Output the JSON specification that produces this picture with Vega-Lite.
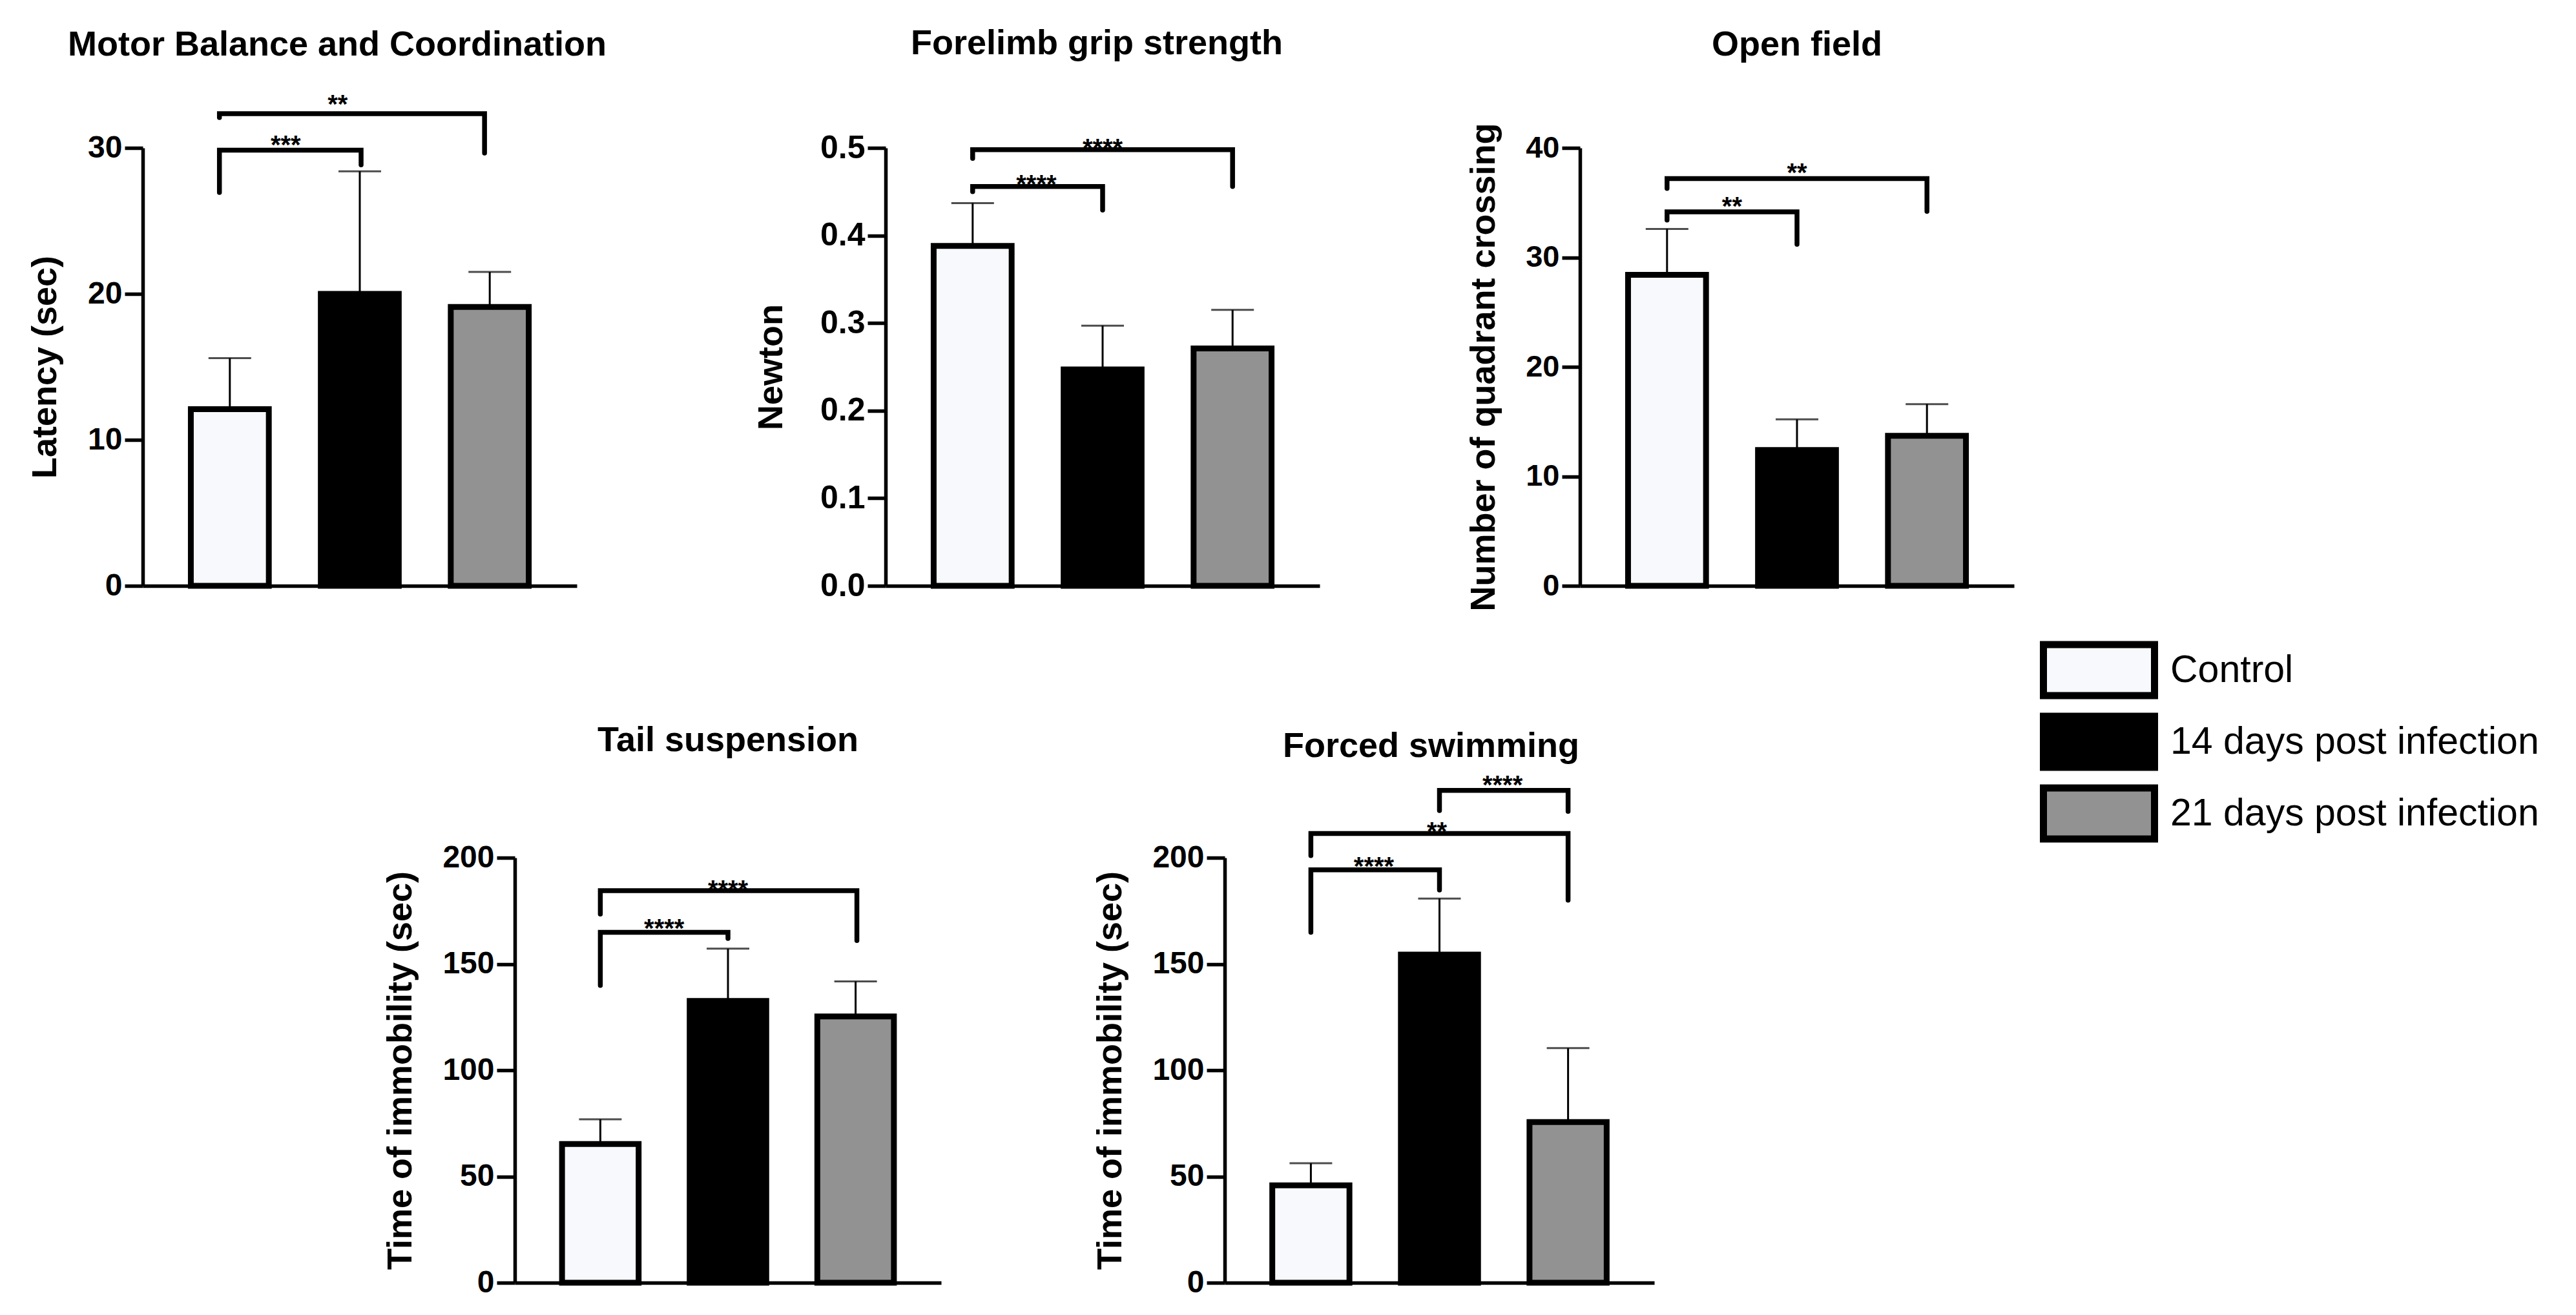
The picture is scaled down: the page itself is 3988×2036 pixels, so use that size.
{
  "$schema": "https://vega.github.io/schema/vega-lite/v6.json",
  "background": "white",
  "padding": {"left": 43, "top": 41, "right": 10, "bottom": 10},
  "datasets": {
    "bars": [
      {"panel": "P1", "group": "Control", "mean": 12.1, "upper": 15.6},
      {"panel": "P1", "group": "14 days post infection", "mean": 20.0, "upper": 28.4},
      {"panel": "P1", "group": "21 days post infection", "mean": 19.1, "upper": 21.5},
      {"panel": "P2", "group": "Control", "mean": 0.388, "upper": 0.437},
      {"panel": "P2", "group": "14 days post infection", "mean": 0.247, "upper": 0.297},
      {"panel": "P2", "group": "21 days post infection", "mean": 0.271, "upper": 0.315},
      {"panel": "P3", "group": "Control", "mean": 28.4, "upper": 32.6},
      {"panel": "P3", "group": "14 days post infection", "mean": 12.4, "upper": 15.2},
      {"panel": "P3", "group": "21 days post infection", "mean": 13.7, "upper": 16.6},
      {"panel": "P4", "group": "Control", "mean": 65.3, "upper": 76.9},
      {"panel": "P4", "group": "14 days post infection", "mean": 132.6, "upper": 157.2},
      {"panel": "P4", "group": "21 days post infection", "mean": 125.3, "upper": 141.8},
      {"panel": "P5", "group": "Control", "mean": 45.8, "upper": 56.2},
      {"panel": "P5", "group": "14 days post infection", "mean": 154.4, "upper": 180.8},
      {"panel": "P5", "group": "21 days post infection", "mean": 75.6, "upper": 110.4}
    ],
    "brackets": [
      {"panel": "P1", "id": "P1a", "seq": 1, "pos": -0.08, "y": 26.95},
      {"panel": "P1", "id": "P1a", "seq": 2, "pos": -0.08, "y": 29.84},
      {"panel": "P1", "id": "P1a", "seq": 3, "pos": 1.01, "y": 29.84},
      {"panel": "P1", "id": "P1a", "seq": 4, "pos": 1.01, "y": 28.84},
      {"panel": "P1", "id": "P1b", "seq": 1, "pos": -0.08, "y": 32.08},
      {"panel": "P1", "id": "P1b", "seq": 2, "pos": -0.08, "y": 32.35},
      {"panel": "P1", "id": "P1b", "seq": 3, "pos": 1.96, "y": 32.35},
      {"panel": "P1", "id": "P1b", "seq": 4, "pos": 1.96, "y": 29.65},
      {"panel": "P2", "id": "P2a", "seq": 1, "pos": 0, "y": 0.450},
      {"panel": "P2", "id": "P2a", "seq": 2, "pos": 0, "y": 0.456},
      {"panel": "P2", "id": "P2a", "seq": 3, "pos": 1, "y": 0.456},
      {"panel": "P2", "id": "P2a", "seq": 4, "pos": 1, "y": 0.429},
      {"panel": "P2", "id": "P2b", "seq": 1, "pos": 0, "y": 0.488},
      {"panel": "P2", "id": "P2b", "seq": 2, "pos": 0, "y": 0.498},
      {"panel": "P2", "id": "P2b", "seq": 3, "pos": 2, "y": 0.498},
      {"panel": "P2", "id": "P2b", "seq": 4, "pos": 2, "y": 0.456},
      {"panel": "P3", "id": "P3a", "seq": 1, "pos": 0, "y": 33.4},
      {"panel": "P3", "id": "P3a", "seq": 2, "pos": 0, "y": 34.16},
      {"panel": "P3", "id": "P3a", "seq": 3, "pos": 1, "y": 34.16},
      {"panel": "P3", "id": "P3a", "seq": 4, "pos": 1, "y": 31.2},
      {"panel": "P3", "id": "P3b", "seq": 1, "pos": 0, "y": 36.3},
      {"panel": "P3", "id": "P3b", "seq": 2, "pos": 0, "y": 37.2},
      {"panel": "P3", "id": "P3b", "seq": 3, "pos": 2, "y": 37.2},
      {"panel": "P3", "id": "P3b", "seq": 4, "pos": 2, "y": 34.2},
      {"panel": "P4", "id": "P4a", "seq": 1, "pos": 0, "y": 139.9},
      {"panel": "P4", "id": "P4a", "seq": 2, "pos": 0, "y": 164.9},
      {"panel": "P4", "id": "P4a", "seq": 3, "pos": 1, "y": 164.9},
      {"panel": "P4", "id": "P4a", "seq": 4, "pos": 1, "y": 162.0},
      {"panel": "P4", "id": "P4b", "seq": 1, "pos": 0, "y": 173.5},
      {"panel": "P4", "id": "P4b", "seq": 2, "pos": 0, "y": 184.5},
      {"panel": "P4", "id": "P4b", "seq": 3, "pos": 2.01, "y": 184.5},
      {"panel": "P4", "id": "P4b", "seq": 4, "pos": 2.01, "y": 161.0},
      {"panel": "P5", "id": "P5a", "seq": 1, "pos": 0, "y": 164.9},
      {"panel": "P5", "id": "P5a", "seq": 2, "pos": 0, "y": 194.3},
      {"panel": "P5", "id": "P5a", "seq": 3, "pos": 1, "y": 194.3},
      {"panel": "P5", "id": "P5a", "seq": 4, "pos": 1, "y": 184.8},
      {"panel": "P5", "id": "P5b", "seq": 1, "pos": 0, "y": 201.0},
      {"panel": "P5", "id": "P5b", "seq": 2, "pos": 0, "y": 211.4},
      {"panel": "P5", "id": "P5b", "seq": 3, "pos": 2, "y": 211.4},
      {"panel": "P5", "id": "P5b", "seq": 4, "pos": 2, "y": 180.0},
      {"panel": "P5", "id": "P5c", "seq": 1, "pos": 1, "y": 222.2},
      {"panel": "P5", "id": "P5c", "seq": 2, "pos": 1, "y": 231.7},
      {"panel": "P5", "id": "P5c", "seq": 3, "pos": 2, "y": 231.7},
      {"panel": "P5", "id": "P5c", "seq": 4, "pos": 2, "y": 221.8}
    ],
    "stars": [
      {"panel": "P1", "label": "***", "pos": 0.43, "y": 30.6},
      {"panel": "P1", "label": "**", "pos": 0.83, "y": 33.4},
      {"panel": "P2", "label": "****", "pos": 0.49, "y": 0.465},
      {"panel": "P2", "label": "****", "pos": 1.0, "y": 0.507},
      {"panel": "P3", "label": "**", "pos": 0.5, "y": 35.2},
      {"panel": "P3", "label": "**", "pos": 1.0, "y": 38.3},
      {"panel": "P4", "label": "****", "pos": 0.5, "y": 169.7},
      {"panel": "P4", "label": "****", "pos": 1.0, "y": 187.9},
      {"panel": "P5", "label": "****", "pos": 0.49, "y": 198.7},
      {"panel": "P5", "label": "**", "pos": 0.98, "y": 215.2},
      {"panel": "P5", "label": "****", "pos": 1.49, "y": 237.0}
    ]
  },
  "spacing": 173,
  "vconcat": [
    {
      "spacing": 227,
      "hconcat": [
        {
          "width": 672, "height": 678,
          "title": {"text": "Motor Balance and Coordination", "dx": -35, "offset": 46},
          "resolve": {"scale": {"x": "independent"}},
          "layer": [
            {
              "data": {"name": "bars"},
              "transform": [{"filter": "datum.panel === 'P1'"}],
              "encoding": {"x": {"field": "group", "type": "nominal", "scale": {"domain": ["Control", "14 days post infection", "21 days post infection"], "paddingInner": 0.4, "paddingOuter": 0.37}, "axis": {"labels": false, "ticks": false, "title": null}}},
              "layer": [
                {"mark": {"type": "rule", "color": "black", "strokeWidth": 3}, "encoding": {"y": {"field": "mean", "type": "quantitative", "title": "Latency (sec)", "scale": {"domain": [0, 30], "nice": false}}, "y2": {"field": "upper"}}},
                {"mark": {"type": "tick", "color": "black", "thickness": 3, "size": 66}, "encoding": {"y": {"field": "upper", "type": "quantitative", "title": "Latency (sec)", "scale": {"domain": [0, 30], "nice": false}}}},
                {"mark": {"type": "bar", "stroke": "black", "strokeWidth": 9}, "encoding": {"y": {"field": "mean", "type": "quantitative", "title": "Latency (sec)", "scale": {"domain": [0, 30], "nice": false}, "axis": {"values": [0, 10, 20, 30], "titlePadding": 38, "labelFontSize": 48}}, "fill": {"field": "group", "type": "nominal", "title": null, "scale": {"domain": ["Control", "14 days post infection", "21 days post infection"], "range": ["#f7f9fc", "#000000", "#929292"]}}}}
              ]
            },
            {
              "layer": [
                {"data": {"name": "brackets"}, "transform": [{"filter": "datum.panel === 'P1'"}], "mark": {"type": "line", "color": "black", "strokeWidth": 7.5, "strokeCap": "round", "strokeJoin": "miter"}, "encoding": {"x": {"field": "pos", "type": "quantitative", "scale": {"domain": [-0.67, 2.67], "nice": false, "zero": false}, "axis": null}, "y": {"field": "y", "type": "quantitative", "title": "Latency (sec)", "scale": {"domain": [0, 30], "nice": false}}, "detail": {"field": "id", "type": "nominal"}, "order": {"field": "seq", "type": "quantitative"}}},
                {"data": {"name": "stars"}, "transform": [{"filter": "datum.panel === 'P1'"}], "mark": {"type": "text", "fontSize": 40, "fontWeight": "bold", "color": "black", "baseline": "alphabetic", "dy": 23}, "encoding": {"x": {"field": "pos", "type": "quantitative", "scale": {"domain": [-0.67, 2.67], "nice": false, "zero": false}, "axis": null}, "y": {"field": "y", "type": "quantitative", "title": "Latency (sec)", "scale": {"domain": [0, 30], "nice": false}}, "text": {"field": "label"}}}
              ]
            }
          ]
        },
        {
          "width": 672, "height": 678,
          "title": {"text": "Forelimb grip strength", "dx": -9, "offset": 109},
          "resolve": {"scale": {"x": "independent"}},
          "layer": [
            {
              "data": {"name": "bars"},
              "transform": [{"filter": "datum.panel === 'P2'"}],
              "encoding": {"x": {"field": "group", "type": "nominal", "scale": {"domain": ["Control", "14 days post infection", "21 days post infection"], "paddingInner": 0.4, "paddingOuter": 0.37}, "axis": {"labels": false, "ticks": false, "title": null}}},
              "layer": [
                {"mark": {"type": "rule", "color": "black", "strokeWidth": 3}, "encoding": {"y": {"field": "mean", "type": "quantitative", "title": "Newton", "scale": {"domain": [0, 0.5], "nice": false}}, "y2": {"field": "upper"}}},
                {"mark": {"type": "tick", "color": "black", "thickness": 3, "size": 66}, "encoding": {"y": {"field": "upper", "type": "quantitative", "title": "Newton", "scale": {"domain": [0, 0.5], "nice": false}}}},
                {"mark": {"type": "bar", "stroke": "black", "strokeWidth": 9}, "encoding": {"y": {"field": "mean", "type": "quantitative", "title": "Newton", "scale": {"domain": [0, 0.5], "nice": false}, "axis": {"values": [0, 0.1, 0.2, 0.3, 0.4, 0.5], "format": ".1f", "titlePadding": 48, "labelFontSize": 50}}, "fill": {"field": "group", "type": "nominal", "title": null, "scale": {"domain": ["Control", "14 days post infection", "21 days post infection"], "range": ["#f7f9fc", "#000000", "#929292"]}}}}
              ]
            },
            {
              "layer": [
                {"data": {"name": "brackets"}, "transform": [{"filter": "datum.panel === 'P2'"}], "mark": {"type": "line", "color": "black", "strokeWidth": 7.5, "strokeCap": "round", "strokeJoin": "miter"}, "encoding": {"x": {"field": "pos", "type": "quantitative", "scale": {"domain": [-0.67, 2.67], "nice": false, "zero": false}, "axis": null}, "y": {"field": "y", "type": "quantitative", "title": "Newton", "scale": {"domain": [0, 0.5], "nice": false}}, "detail": {"field": "id", "type": "nominal"}, "order": {"field": "seq", "type": "quantitative"}}},
                {"data": {"name": "stars"}, "transform": [{"filter": "datum.panel === 'P2'"}], "mark": {"type": "text", "fontSize": 40, "fontWeight": "bold", "color": "black", "baseline": "alphabetic", "dy": 23}, "encoding": {"x": {"field": "pos", "type": "quantitative", "scale": {"domain": [-0.67, 2.67], "nice": false, "zero": false}, "axis": null}, "y": {"field": "y", "type": "quantitative", "title": "Newton", "scale": {"domain": [0, 0.5], "nice": false}}, "text": {"field": "label"}}}
              ]
            }
          ]
        },
        {
          "width": 672, "height": 678,
          "title": {"text": "Open field", "dx": 0, "offset": 93},
          "resolve": {"scale": {"x": "independent"}},
          "layer": [
            {
              "data": {"name": "bars"},
              "transform": [{"filter": "datum.panel === 'P3'"}],
              "encoding": {"x": {"field": "group", "type": "nominal", "scale": {"domain": ["Control", "14 days post infection", "21 days post infection"], "paddingInner": 0.4, "paddingOuter": 0.37}, "axis": {"labels": false, "ticks": false, "title": null}}},
              "layer": [
                {"mark": {"type": "rule", "color": "black", "strokeWidth": 3}, "encoding": {"y": {"field": "mean", "type": "quantitative", "title": "Number of quadrant crossing", "scale": {"domain": [0, 40], "nice": false}}, "y2": {"field": "upper"}}},
                {"mark": {"type": "tick", "color": "black", "thickness": 3, "size": 66}, "encoding": {"y": {"field": "upper", "type": "quantitative", "title": "Number of quadrant crossing", "scale": {"domain": [0, 40], "nice": false}}}},
                {"mark": {"type": "bar", "stroke": "black", "strokeWidth": 9}, "encoding": {"y": {"field": "mean", "type": "quantitative", "title": "Number of quadrant crossing", "scale": {"domain": [0, 40], "nice": false}, "axis": {"values": [0, 10, 20, 30, 40], "titlePadding": 37, "labelFontSize": 47}}, "fill": {"field": "group", "type": "nominal", "title": null, "scale": {"domain": ["Control", "14 days post infection", "21 days post infection"], "range": ["#f7f9fc", "#000000", "#929292"]}}}}
              ]
            },
            {
              "layer": [
                {"data": {"name": "brackets"}, "transform": [{"filter": "datum.panel === 'P3'"}], "mark": {"type": "line", "color": "black", "strokeWidth": 7.5, "strokeCap": "round", "strokeJoin": "miter"}, "encoding": {"x": {"field": "pos", "type": "quantitative", "scale": {"domain": [-0.67, 2.67], "nice": false, "zero": false}, "axis": null}, "y": {"field": "y", "type": "quantitative", "title": "Number of quadrant crossing", "scale": {"domain": [0, 40], "nice": false}}, "detail": {"field": "id", "type": "nominal"}, "order": {"field": "seq", "type": "quantitative"}}},
                {"data": {"name": "stars"}, "transform": [{"filter": "datum.panel === 'P3'"}], "mark": {"type": "text", "fontSize": 40, "fontWeight": "bold", "color": "black", "baseline": "alphabetic", "dy": 23}, "encoding": {"x": {"field": "pos", "type": "quantitative", "scale": {"domain": [-0.67, 2.67], "nice": false, "zero": false}, "axis": null}, "y": {"field": "y", "type": "quantitative", "title": "Number of quadrant crossing", "scale": {"domain": [0, 40], "nice": false}}, "text": {"field": "label"}}}
              ]
            }
          ]
        }
      ]
    },
    {
      "spacing": 235,
      "hconcat": [
        {
          "width": 137, "height": 10,
          "data": {"values": []},
          "mark": {"type": "point", "opacity": 0},
          "encoding": {}
        },
        {
          "width": 660, "height": 658,
          "title": {"text": "Tail suspension", "dx": 0, "offset": 130},
          "resolve": {"scale": {"x": "independent"}},
          "layer": [
            {
              "data": {"name": "bars"},
              "transform": [{"filter": "datum.panel === 'P4'"}],
              "encoding": {"x": {"field": "group", "type": "nominal", "scale": {"domain": ["Control", "14 days post infection", "21 days post infection"], "paddingInner": 0.4, "paddingOuter": 0.37}, "axis": {"labels": false, "ticks": false, "title": null}}},
              "layer": [
                {"mark": {"type": "rule", "color": "black", "strokeWidth": 3}, "encoding": {"y": {"field": "mean", "type": "quantitative", "title": "Time of immobility (sec)", "scale": {"domain": [0, 200], "nice": false}}, "y2": {"field": "upper"}}},
                {"mark": {"type": "tick", "color": "black", "thickness": 3, "size": 66}, "encoding": {"y": {"field": "upper", "type": "quantitative", "title": "Time of immobility (sec)", "scale": {"domain": [0, 200], "nice": false}}}},
                {"mark": {"type": "bar", "stroke": "black", "strokeWidth": 9}, "encoding": {"y": {"field": "mean", "type": "quantitative", "title": "Time of immobility (sec)", "scale": {"domain": [0, 200], "nice": false}, "axis": {"values": [0, 50, 100, 150, 200], "titlePadding": 37}}, "fill": {"field": "group", "type": "nominal", "title": null, "scale": {"domain": ["Control", "14 days post infection", "21 days post infection"], "range": ["#f7f9fc", "#000000", "#929292"]}}}}
              ]
            },
            {
              "layer": [
                {"data": {"name": "brackets"}, "transform": [{"filter": "datum.panel === 'P4'"}], "mark": {"type": "line", "color": "black", "strokeWidth": 7.5, "strokeCap": "round", "strokeJoin": "miter"}, "encoding": {"x": {"field": "pos", "type": "quantitative", "scale": {"domain": [-0.67, 2.67], "nice": false, "zero": false}, "axis": null}, "y": {"field": "y", "type": "quantitative", "title": "Time of immobility (sec)", "scale": {"domain": [0, 200], "nice": false}}, "detail": {"field": "id", "type": "nominal"}, "order": {"field": "seq", "type": "quantitative"}}},
                {"data": {"name": "stars"}, "transform": [{"filter": "datum.panel === 'P4'"}], "mark": {"type": "text", "fontSize": 40, "fontWeight": "bold", "color": "black", "baseline": "alphabetic", "dy": 23}, "encoding": {"x": {"field": "pos", "type": "quantitative", "scale": {"domain": [-0.67, 2.67], "nice": false, "zero": false}, "axis": null}, "y": {"field": "y", "type": "quantitative", "title": "Time of immobility (sec)", "scale": {"domain": [0, 200], "nice": false}}, "text": {"field": "label"}}}
              ]
            }
          ]
        },
        {
          "width": 665, "height": 658,
          "title": {"text": "Forced swimming", "dx": -13, "offset": 14},
          "resolve": {"scale": {"x": "independent"}},
          "layer": [
            {
              "data": {"name": "bars"},
              "transform": [{"filter": "datum.panel === 'P5'"}],
              "encoding": {"x": {"field": "group", "type": "nominal", "scale": {"domain": ["Control", "14 days post infection", "21 days post infection"], "paddingInner": 0.4, "paddingOuter": 0.37}, "axis": {"labels": false, "ticks": false, "title": null}}},
              "layer": [
                {"mark": {"type": "rule", "color": "black", "strokeWidth": 3}, "encoding": {"y": {"field": "mean", "type": "quantitative", "title": "Time of immobility (sec)", "scale": {"domain": [0, 200], "nice": false}}, "y2": {"field": "upper"}}},
                {"mark": {"type": "tick", "color": "black", "thickness": 3, "size": 66}, "encoding": {"y": {"field": "upper", "type": "quantitative", "title": "Time of immobility (sec)", "scale": {"domain": [0, 200], "nice": false}}}},
                {"mark": {"type": "bar", "stroke": "black", "strokeWidth": 9}, "encoding": {"y": {"field": "mean", "type": "quantitative", "title": "Time of immobility (sec)", "scale": {"domain": [0, 200], "nice": false}, "axis": {"values": [0, 50, 100, 150, 200], "titlePadding": 37}}, "fill": {"field": "group", "type": "nominal", "title": null, "scale": {"domain": ["Control", "14 days post infection", "21 days post infection"], "range": ["#f7f9fc", "#000000", "#929292"]}}}}
              ]
            },
            {
              "layer": [
                {"data": {"name": "brackets"}, "transform": [{"filter": "datum.panel === 'P5'"}], "mark": {"type": "line", "color": "black", "strokeWidth": 7.5, "strokeCap": "round", "strokeJoin": "miter"}, "encoding": {"x": {"field": "pos", "type": "quantitative", "scale": {"domain": [-0.67, 2.67], "nice": false, "zero": false}, "axis": null}, "y": {"field": "y", "type": "quantitative", "title": "Time of immobility (sec)", "scale": {"domain": [0, 200], "nice": false}}, "detail": {"field": "id", "type": "nominal"}, "order": {"field": "seq", "type": "quantitative"}}},
                {"data": {"name": "stars"}, "transform": [{"filter": "datum.panel === 'P5'"}], "mark": {"type": "text", "fontSize": 40, "fontWeight": "bold", "color": "black", "baseline": "alphabetic", "dy": 23}, "encoding": {"x": {"field": "pos", "type": "quantitative", "scale": {"domain": [-0.67, 2.67], "nice": false, "zero": false}, "axis": null}, "y": {"field": "y", "type": "quantitative", "title": "Time of immobility (sec)", "scale": {"domain": [0, 200], "nice": false}}, "text": {"field": "label"}}}
              ]
            }
          ]
        }
      ]
    }
  ],
  "config": {
    "font": "Liberation Sans",
    "view": {"stroke": null},
    "title": {"fontSize": 54, "fontWeight": "bold", "color": "black", "anchor": "middle", "frame": "group"},
    "axis": {"domainColor": "black", "domainWidth": 5.5, "tickColor": "black", "tickWidth": 5.5, "tickSize": 28, "labelFontSize": 48, "labelFontWeight": "bold", "labelColor": "black", "labelPadding": 4, "titleFontSize": 54, "titleFontWeight": "bold", "titleColor": "black", "titlePadding": 40, "grid": false, "labelFlush": false, "labelOverlap": false, "labelBound": false},
    "legend": {"orient": "none", "legendX": 2980, "legendY": 760, "symbolType": "M-2,-0.92H2V0.92H-2Z", "symbolSize": 7396, "symbolStrokeColor": "black", "symbolStrokeWidth": 11, "symbolOpacity": 1, "labelFontSize": 59, "labelColor": "black", "labelFont": "Liberation Sans", "labelOffset": 62, "labelLimit": 2000, "rowPadding": -28, "padding": 0, "offset": 0}
  }
}
